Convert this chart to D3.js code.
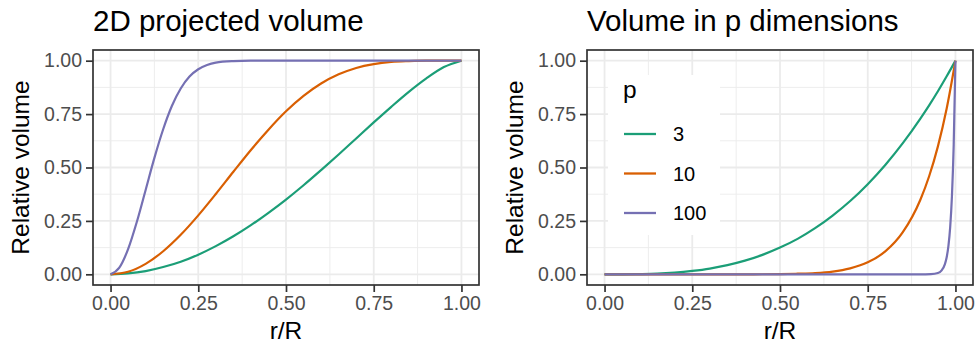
<!DOCTYPE html>
<html>
<head>
<meta charset="utf-8">
<script src="https://cdn.jsdelivr.net/npm/d3@7"></script>
<style>
  body { margin: 0; background: #fff; }
  svg { font-family: "Liberation Sans", Arial, sans-serif; }
</style>
</head>
<body>
<svg id="chart" width="977" height="343"></svg>
<script>
// series
var pLevels = ["3", "10", "100"]
var colors = ["#1B9E77", "#D95F02", "#7570B3"]
var tickValues = [0, 0.25, 0.5, 0.75, 1]
var tickLabels = ["0.00", "0.25", "0.50", "0.75", "1.00"]

// left panel: 2D projected volume
var rLeft = [0, 0.05, 0.1, 0.15, 0.2, 0.25, 0.3, 0.35, 0.4, 0.45, 0.5, 0.55, 0.6, 0.65, 0.7, 0.75, 0.8, 0.85, 0.9, 0.95, 1]
var proj3 = [0, 0.004, 0.015, 0.034, 0.059, 0.092, 0.132, 0.178, 0.230, 0.288, 0.350, 0.417, 0.488, 0.561, 0.636, 0.711, 0.784, 0.854, 0.917, 0.970, 1]
var proj10 = [0, 0.012, 0.049, 0.108, 0.185, 0.276, 0.376, 0.480, 0.582, 0.677, 0.763, 0.835, 0.893, 0.936, 0.966, 0.984, 0.994, 0.998, 1, 1, 1]
var rLeft100 = [0, 0.025, 0.05, 0.075, 0.1, 0.125, 0.15, 0.175, 0.2, 0.225, 0.25, 0.275, 0.3, 0.35, 0.4, 0.5, 0.6, 0.7, 0.8, 0.9, 1]
var proj100 = [0, 0.031, 0.118, 0.246, 0.395, 0.545, 0.679, 0.789, 0.870, 0.926, 0.960, 0.980, 0.991, 0.998, 1, 1, 1, 1, 1, 1, 1]

// right panel: volume in p dimensions
var rRight = [0, 0.05, 0.1, 0.15, 0.2, 0.25, 0.3, 0.35, 0.4, 0.45, 0.5, 0.55, 0.6, 0.65, 0.7, 0.75, 0.8, 0.85, 0.9, 0.925, 0.95, 0.975, 1]
var vol3 = [0, 0.0001, 0.001, 0.003, 0.008, 0.016, 0.027, 0.043, 0.064, 0.091, 0.125, 0.166, 0.216, 0.275, 0.343, 0.422, 0.512, 0.614, 0.729, 0.791, 0.857, 0.927, 1]
var vol10 = [0, 0, 0, 0, 0, 0, 0, 0, 0.0001, 0.0003, 0.001, 0.003, 0.006, 0.013, 0.028, 0.056, 0.107, 0.197, 0.349, 0.459, 0.599, 0.776, 1]
var rRight100 = [0, 0.5, 0.9, 0.93, 0.95, 0.96, 0.97, 0.975, 0.98, 0.985, 0.99, 0.995, 1]
var vol100 = [0, 0, 0, 0.001, 0.006, 0.017, 0.048, 0.080, 0.133, 0.221, 0.366, 0.606, 1]

var svg = d3.select("#chart")

var panels = [
  { title: "2D projected volume", left: 93, right: 479,
    series: [[rLeft, proj3], [rLeft, proj10], [rLeft100, proj100]], legend: false },
  { title: "Volume in p dimensions", left: 587, right: 973,
    series: [[rRight, vol3], [rRight, vol10], [rRight100, vol100]], legend: true }
]
var panelTop = 50, panelBottom = 285

panels.forEach(function (p) {
  var w = p.right - p.left, h = panelBottom - panelTop
  var g = svg.append("g").attr("transform", "translate(" + p.left + "," + panelTop + ")")

  var x = d3.scaleLinear().domain([-0.05, 1.05]).range([0, w])
  var y = d3.scaleLinear().domain([-0.05, 1.05]).range([h, 0])

  // minor grid
  var minor = [0.125, 0.375, 0.625, 0.875]
  g.selectAll(".mx").data(minor).enter().append("line")
    .attr("x1", d => x(d)).attr("x2", d => x(d)).attr("y1", 0).attr("y2", h)
    .attr("stroke", "#EBEBEB").attr("stroke-width", 0.9)
  g.selectAll(".my").data(minor).enter().append("line")
    .attr("y1", d => y(d)).attr("y2", d => y(d)).attr("x1", 0).attr("x2", w)
    .attr("stroke", "#EBEBEB").attr("stroke-width", 0.9)
  // major grid
  g.selectAll(".gx").data(tickValues).enter().append("line")
    .attr("x1", d => x(d)).attr("x2", d => x(d)).attr("y1", 0).attr("y2", h)
    .attr("stroke", "#EBEBEB").attr("stroke-width", 1.8)
  g.selectAll(".gy").data(tickValues).enter().append("line")
    .attr("y1", d => y(d)).attr("y2", d => y(d)).attr("x1", 0).attr("x2", w)
    .attr("stroke", "#EBEBEB").attr("stroke-width", 1.8)

  // legend box (drawn before lines)
  if (p.legend) {
    var lg = g.append("g").attr("transform", "translate(21,25)")
    lg.append("rect").attr("width", 112).attr("height", 160).attr("fill", "#fff")
    lg.append("text").attr("x", 15).attr("y", 23).attr("font-size", 24.5).attr("fill", "#000").text("p")
    pLevels.forEach(function (lab, i) {
      var yy = 59 + i * 39.5
      lg.append("line").attr("x1", 16).attr("x2", 48).attr("y1", yy).attr("y2", yy)
        .attr("stroke", colors[i]).attr("stroke-width", 2.3)
      lg.append("text").attr("x", 65).attr("y", yy).attr("dy", "0.36em")
        .attr("font-size", 20).attr("fill", "#000").text(lab)
    })
  }

  var line = d3.line().x(d => x(d[0])).y(d => y(d[1])).curve(d3.curveMonotoneX)
  p.series.forEach(function (s, i) {
    var pts = s[0].map((r, j) => [r, s[1][j]])
    g.append("path").datum(pts).attr("d", line)
      .attr("fill", "none").attr("stroke", colors[i]).attr("stroke-width", 2.2)
  })

  // border
  g.append("rect").attr("width", w).attr("height", h)
    .attr("fill", "none").attr("stroke", "#333333").attr("stroke-width", 1.7)

  // axes
  var xa = g.append("g").attr("transform", "translate(0," + h + ")")
    .call(d3.axisBottom(x).tickValues(tickValues).tickFormat((d, i) => tickLabels[i]).tickSize(7).tickPadding(4))
  var ya = g.append("g")
    .call(d3.axisLeft(y).tickValues(tickValues).tickFormat((d, i) => tickLabels[i]).tickSize(7).tickPadding(4))
  ;[xa, ya].forEach(function (a) {
    a.select(".domain").remove()
    a.attr("font-size", 19.5).attr("font-family", "'Liberation Sans', Arial, sans-serif")
    a.selectAll("line").attr("stroke", "#333333").attr("stroke-width", 1.7)
    a.selectAll("text").attr("fill", "#4D4D4D")
  })

  // titles
  g.append("text").attr("x", 0).attr("y", -19).attr("font-size", 29.5).attr("fill", "#000").text(p.title)
  g.append("text").attr("x", w / 2).attr("y", h + 54).attr("text-anchor", "middle")
    .attr("font-size", 24.5).attr("fill", "#000").text("r/R")
  g.append("text").attr("transform", "translate(" + (-64) + "," + (h / 2) + ") rotate(-90)")
    .attr("text-anchor", "middle").attr("font-size", 24.5).attr("fill", "#000").text("Relative volume")
})
</script>
</body>
</html>
